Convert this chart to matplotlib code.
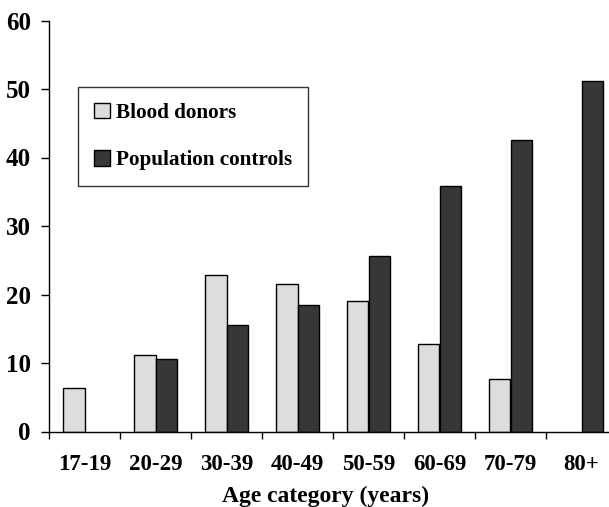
import numpy as np
import matplotlib
matplotlib.use("Agg")
import matplotlib.pyplot as plt

plt.rcParams.update({
    "font.family": "Liberation Serif",
    "font.weight": "bold",
    "axes.linewidth": 1.0,
})

categories = ["17-19", "20-29", "30-39", "40-49", "50-59", "60-69", "70-79", "80+"]
donors = [6.4, 11.2, 22.9, 21.6, 19.0, 12.8, 7.6, 0.0]
controls = [0.0, 10.6, 15.5, 18.4, 25.6, 35.9, 42.6, 51.2]

LIGHT = "#dddddd"
DARK = "#373737"

fig = plt.figure(figsize=(6.09, 5.07), dpi=100)
# axes runs past the right edge of the figure, as in the original scan
ax = fig.add_axes([49 / 609, 1 - 431.5 / 507, 568 / 609, 411 / 507])

x = np.arange(len(categories)) + 0.5
w = 0.3
# empty groups get no bar at all (no outline on the axis)
d = np.array(donors, dtype=float)
c = np.array(controls, dtype=float)
d[d == 0] = np.nan
c[c == 0] = np.nan
ax.bar(x - w / 2, d, w, color=LIGHT, edgecolor="black", linewidth=1.0,
       label="Blood donors")
ax.bar(x + w / 2, c, w, color=DARK, edgecolor="black", linewidth=1.0,
       label="Population controls")

ax.set_xlim(0, len(categories))
ax.set_ylim(0, 60)
ax.set_yticks(range(0, 61, 10))
ax.tick_params(axis="y", direction="out", length=6, width=1.0, pad=7,
               labelsize=18)

# boundary ticks (major) and category labels (minor)
ax.set_xticks(np.arange(len(categories) + 1))
ax.set_xticklabels([])
ax.set_xticks(x, minor=True)
ax.set_xticklabels(categories, minor=True)
ax.tick_params(axis="x", which="major", direction="out", length=5, width=1.0)
ax.tick_params(axis="x", which="minor", length=0, pad=16, labelsize=16.5)

for s in ["top", "right"]:
    ax.spines[s].set_visible(False)

ax.set_xlabel("Age category (years)", fontsize=17, fontweight="bold",
              va="top")
ax.xaxis.set_label_coords((326 - 49) / 568, -(486 - 431.5) / 411)

leg = ax.legend(loc="upper left", bbox_to_anchor=(78 / 609, 1 - 87 / 507),
                bbox_transform=fig.transFigure, frameon=True, fancybox=False,
                fontsize=15.2, handlelength=0.75, handleheight=0.75,
                handletextpad=0.3, labelspacing=1.3, borderpad=0.75,
                borderaxespad=0)
leg.get_frame().set_edgecolor("black")
leg.get_frame().set_linewidth(1.0)
for t in leg.get_texts():
    t.set_fontweight("bold")

fig.savefig("out.png", dpi=100)
